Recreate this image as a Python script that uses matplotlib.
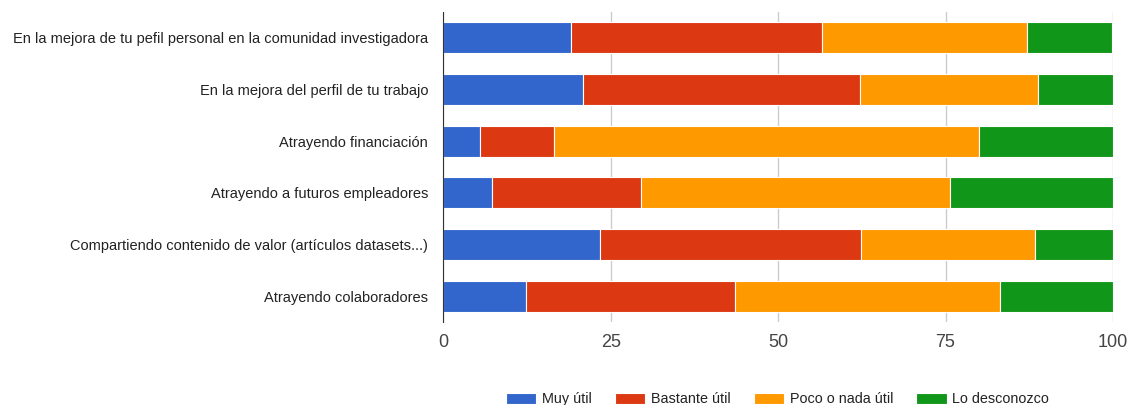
import numpy as np
import matplotlib.pyplot as plt

plt.rcParams['font.family'] = ['Liberation Sans', 'DejaVu Sans']

categorias = [
    "En la mejora de tu pefil personal en la comunidad investigadora",
    "En la mejora del perfil de tu trabajo",
    "Atrayendo financiación",
    "Atrayendo a futuros empleadores",
    "Compartiendo contenido de valor (artículos datasets...)",
    "Atrayendo colaboradores",
]
series = ["Muy útil", "Bastante útil", "Poco o nada útil", "Lo desconozco"]
colores = ["#3366cc", "#dc3912", "#ff9900", "#109618"]

muy_util = [19.1, 20.9, 5.5, 7.3, 23.4, 12.3]
bastante_util = [37.5, 41.3, 11.0, 22.2, 39.0, 31.2]
poco_util = [30.5, 26.6, 63.5, 46.2, 25.9, 39.6]
desconozco = [12.7, 11.2, 20.0, 24.3, 11.7, 16.9]
valores = [muy_util, bastante_util, poco_util, desconozco]

fig = plt.figure(figsize=(11.31, 4.05), dpi=100)
ax = fig.add_axes([0.392, 0.205, 0.592, 0.765])

y = np.arange(len(categorias))
izq = np.zeros(len(categorias))
for nombre, vals, col in zip(series, valores, colores):
    ax.barh(y, vals, left=izq, height=0.6, color=col, edgecolor='white',
            linewidth=0.8, label=nombre, zorder=3)
    izq += np.array(vals)

ax.set_xlim(0, 100)
ax.set_ylim(len(categorias) - 0.5, -0.5)
ax.set_xticks([0, 25, 50, 75, 100])
ax.set_yticks(y)
ax.set_yticklabels(categorias, fontsize=10.55, color='#222222')
ax.tick_params(axis='x', labelsize=13, labelcolor='#444444', length=0, pad=9)
ax.tick_params(axis='y', length=0, pad=11)
ax.grid(axis='x', color='#cccccc', linewidth=1, zorder=0)
for s in ['top', 'right', 'bottom']:
    ax.spines[s].set_visible(False)
ax.spines['left'].set_color('#333333')
ax.spines['left'].set_zorder(4)

# leyenda centrada bajo el eje, pegada al borde inferior
fig.legend(loc='center', bbox_to_anchor=(0.6875, 0.014), ncol=4,
           frameon=False, fontsize=10.4, handlelength=2.1, handleheight=0.85,
           columnspacing=1.6, handletextpad=0.4, labelcolor='#222222')

fig.savefig('out.png', dpi=100)
